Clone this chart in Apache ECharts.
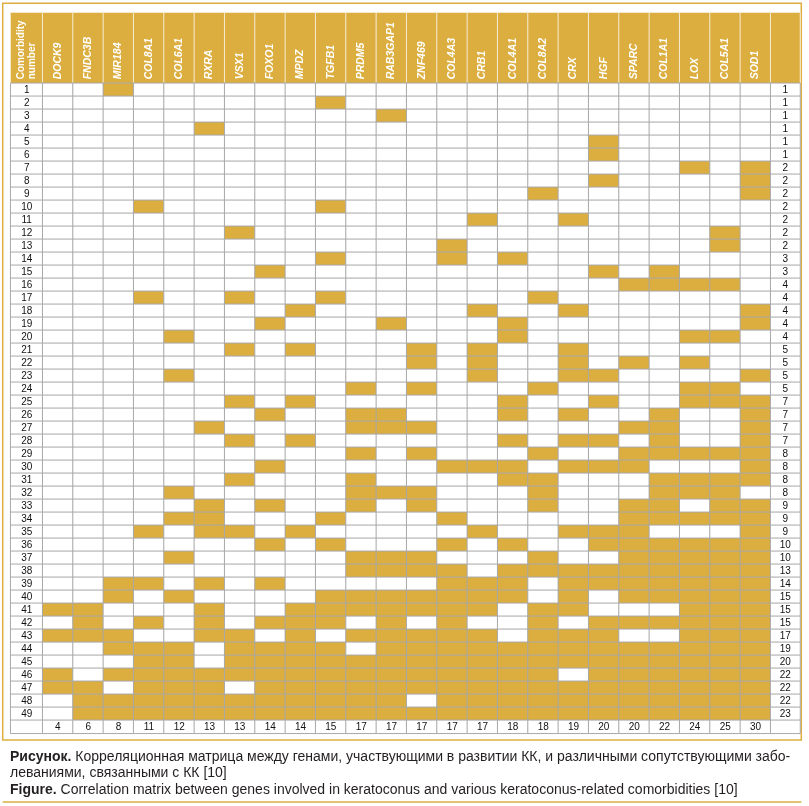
<!DOCTYPE html>
<html><head><meta charset="utf-8">
<script src="https://cdn.jsdelivr.net/npm/echarts@6/dist/echarts.min.js"></script>
<style>html,body{margin:0;padding:0;background:#fff}#c{width:809px;height:806px}</style>
</head><body><div id="c"></div>
<script>
// ---------- data ----------
const genes = ['DOCK9','FNDC3B','MIR184','COL8A1','COL6A1','RXRA','VSX1','FOXO1','MPDZ','TGFB1','PRDM5','RAB3GAP1','ZNF469','COL4A3','CRB1','COL4A1','COL8A2','CRX','HGF','SPARC','COL1A1','LOX','COL5A1','SOD1'];
const comorbidities = ['1','2','3','4','5','6','7','8','9','10','11','12','13','14','15','16','17','18','19','20','21','22','23','24','25','26','27','28','29','30','31','32','33','34','35','36','37','38','39','40','41','42','43','44','45','46','47','48','49'];
// comorbidity numbers marked for each gene (same order as genes)
const rowsWithGene = [
  [41,43,46,47],
  [41,42,43,47,48,49],
  [1,39,40,43,44,46,48,49],
  [10,17,35,39,42,44,45,46,47,48,49],
  [20,23,32,34,37,40,44,45,46,47,48,49],
  [4,27,33,34,35,39,41,42,43,46,47,48,49],
  [12,17,21,25,28,31,35,43,44,45,46,48,49],
  [15,19,26,30,33,36,39,42,44,45,46,47,48,49],
  [18,21,25,28,35,41,42,43,44,45,46,47,48,49],
  [2,10,14,17,34,36,40,41,42,44,45,46,47,48,49],
  [24,26,27,29,31,32,33,37,38,40,41,43,45,46,47,48,49],
  [3,19,26,27,32,37,38,40,41,42,43,44,45,46,47,48,49],
  [21,22,24,27,29,32,33,37,38,40,41,43,44,45,46,47,49],
  [13,14,30,34,36,38,39,40,41,42,43,44,45,46,47,48,49],
  [11,18,21,22,23,30,35,39,40,41,43,44,45,46,47,48,49],
  [14,19,20,25,26,28,30,31,36,38,39,40,44,45,46,47,48,49],
  [9,17,24,29,31,32,33,37,38,41,42,43,44,45,46,47,48,49],
  [11,18,21,22,23,26,28,30,35,38,39,40,41,43,44,45,47,48,49],
  [5,6,8,15,23,25,28,30,35,36,38,39,42,43,44,45,46,47,48,49],
  [16,22,27,29,30,33,34,35,36,37,38,39,40,42,44,45,46,47,48,49],
  [15,16,26,27,28,29,31,32,33,34,36,37,38,39,40,42,44,45,46,47,48,49],
  [7,16,20,22,24,25,29,31,32,34,36,37,38,39,40,41,42,43,44,45,46,47,48,49],
  [12,13,16,20,24,25,29,31,32,33,34,36,37,38,39,40,41,42,43,44,45,46,47,48,49],
  [7,8,9,18,19,23,25,26,27,28,29,30,31,33,34,35,36,37,38,39,40,41,42,43,44,45,46,47,48,49]
];
const rowTotals = [1,1,1,1,1,1,2,2,2,2,2,2,2,3,3,4,4,4,4,4,5,5,5,5,7,7,7,7,8,8,8,8,9,9,9,10,10,13,14,15,15,15,17,19,20,22,22,22,23];
const colTotals = [4,6,8,11,12,13,13,14,14,15,17,17,17,17,17,18,18,19,20,20,22,24,25,30];
const headerLabel = 'Comorbidity\nnumber';
const captionRu1 = 'Корреляционная матрица между генами, участвующими в развитии КК, и различными сопутствующими забо-';
const captionRu2 = 'леваниями, связанными с КК [10]';
const captionEn = 'Correlation matrix between genes involved in keratoconus and various keratoconus-related comorbidities [10]';

// ---------- layout / style ----------
const GOLD = '#dcae3f';
const LINE = '#a8a8a8';
const SEP = '#f6ead0';
const FONT = "'Liberation Sans', Arial, sans-serif";
const X0 = 10.7, XG = 42.7, XR = 770.7, XE = 800;
const YH = 12.7, YB = 83.3, RH = 13;
const NR = comorbidities.length;
const YBB = YB + NR * RH;
const BOT_H = 13;

const colBands = [[X0, XG - X0], [XG, XR - XG], [XR, XE - XR]];
const rowBands = [[YH, YB - YH], [YB, NR * RH], [YBB, BOT_H]];

const grids = [], xAxes = [], yAxes = [];
const xData = [['h'], genes, ['t']];
const yData = [['h'], comorbidities, ['b']];
rowBands.forEach((rb, ri) => {
  colBands.forEach((cb, ci) => {
    const gi = grids.length;
    grids.push({left: cb[0], top: rb[0], width: cb[1], height: rb[1], containLabel: false, outerBoundsMode: 'none', show: false});
    let xa = {gridIndex: gi, type: 'category', data: xData[ci], show: false};
    if (ri === 0 && ci === 1) {
      xa = {gridIndex: gi, type: 'category', data: genes, position: 'bottom', z: 10,
        axisLine: {show: false}, axisTick: {show: false}, splitLine: {show: false},
        axisLabel: {inside: true, rotate: 90, margin: 4, interval: 0, color: '#fff', fontWeight: 'bold', fontStyle: 'italic', fontSize: 10.5, fontFamily: FONT}};
    }
    if (ri === 0 && ci === 0) {
      xa = {gridIndex: gi, type: 'category', data: [headerLabel], position: 'bottom', z: 10,
        axisLine: {show: false}, axisTick: {show: false}, splitLine: {show: false},
        axisLabel: {inside: true, rotate: 90, margin: 4, interval: 0, color: '#fff', fontWeight: 'bold', fontSize: 10, lineHeight: 11, fontFamily: FONT}};
    }
    xAxes.push(xa);
    yAxes.push({gridIndex: gi, type: 'category', data: yData[ri], inverse: true, show: false});
  });
});

function cellSeries(gi, data, color, border, labelFn) {
  return {
    type: 'heatmap', xAxisIndex: gi, yAxisIndex: gi, data: data,
    itemStyle: {color: color, borderColor: border, borderWidth: 1},
    label: labelFn ? {show: true, formatter: labelFn, color: '#111', fontSize: 10, fontFamily: FONT} : {show: false},
    emphasis: {disabled: true}, silent: true, animation: false
  };
}

const bodyData = [];
genes.forEach((g, gi) => {
  comorbidities.forEach((c, r) => {
    bodyData.push([gi, r, rowsWithGene[gi].indexOf(Number(c)) >= 0 ? 1 : 0]);
  });
});

const series = [
  cellSeries(0, [[0, 0, 1]], GOLD, SEP),
  cellSeries(1, genes.map((g, i) => [i, 0, 1]), GOLD, SEP),
  cellSeries(2, [[0, 0, 1]], GOLD, SEP),
  cellSeries(3, comorbidities.map((c, r) => [0, r, 1]), '#fff', LINE, p => comorbidities[p.value[1]]),
  cellSeries(4, bodyData, '#fff', LINE),
  cellSeries(5, rowTotals.map((t, r) => [0, r, t]), '#fff', LINE, p => String(rowTotals[p.value[1]])),
  cellSeries(6, [[0, 0, 0]], '#fff', LINE),
  cellSeries(7, colTotals.map((t, i) => [i, 0, t]), '#fff', LINE, p => String(colTotals[p.value[0]])),
  cellSeries(8, [[0, 0, 0]], '#fff', LINE)
];

const CAP = '14px ' + FONT;
const chart = echarts.init(document.getElementById('c'), null, {renderer: 'canvas'});
chart.setOption({
  animation: false,
  backgroundColor: '#fff',
  grid: grids, xAxis: xAxes, yAxis: yAxes,
  visualMap: [{type: 'piecewise', show: false, seriesIndex: 4, dimension: 2,
    pieces: [{value: 0, color: '#ffffff'}, {value: 1, color: GOLD}]}],
  series: series,
  graphic: [
    {type: 'rect', silent: true, shape: {x: 2.7, y: 3.3, width: 798.6, height: 736.7}, style: {fill: 'none', stroke: GOLD, lineWidth: 1.5}},
    {type: 'line', silent: true, shape: {x1: 2.7, y1: 802, x2: 801.3, y2: 802}, style: {stroke: GOLD, lineWidth: 1.5}},
    {type: 'text', silent: true, x: 10, y: 757, style: {text: '{b|Рисунок.} ' + captionRu1, verticalAlign: 'middle', fill: '#231f20', font: CAP,
      rich: {b: {fontWeight: 'bold', fontSize: 14, fontFamily: FONT, fill: '#231f20'}}}},
    {type: 'text', silent: true, x: 10, y: 773, style: {text: captionRu2, verticalAlign: 'middle', fill: '#231f20', font: CAP}},
    {type: 'text', silent: true, x: 10, y: 790, style: {text: '{b|Figure.} ' + captionEn, verticalAlign: 'middle', fill: '#231f20', font: CAP,
      rich: {b: {fontWeight: 'bold', fontSize: 14, fontFamily: FONT, fill: '#231f20'}}}}
  ]
});
</script></body></html>
